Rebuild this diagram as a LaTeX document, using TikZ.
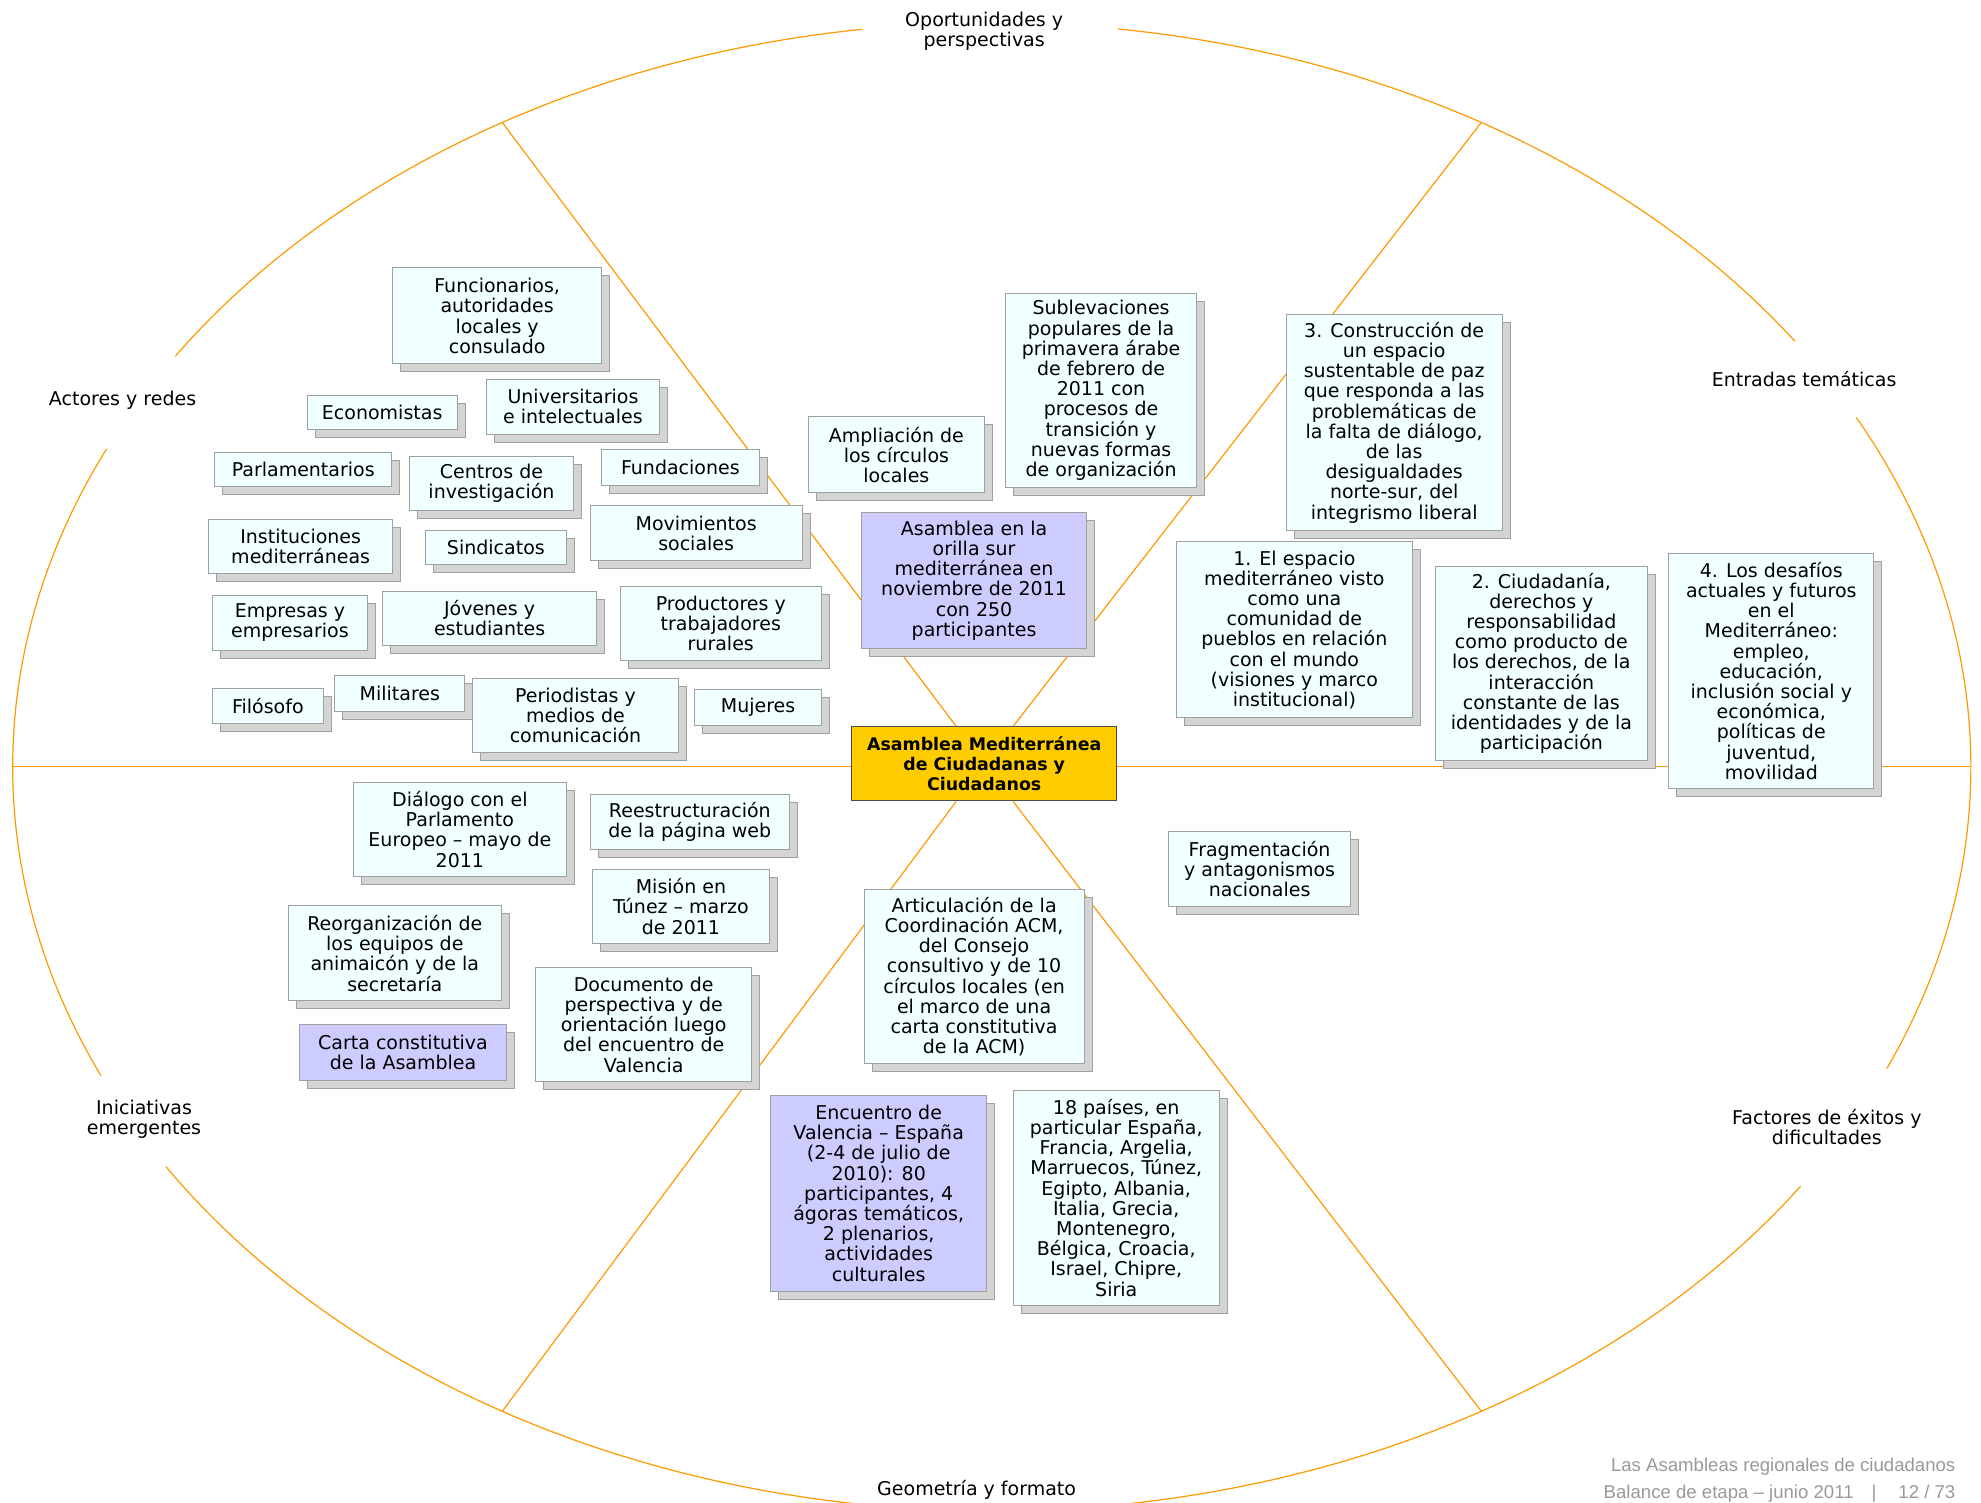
\documentclass[tikz,border=0pt]{standalone}
\usepackage{fontspec}
\setmainfont{DejaVu Sans}
\newfontfamily\piefont{Liberation Sans}
\usetikzlibrary{shadows}

\definecolor{naranja}{HTML}{FF9900}
\definecolor{celeste}{HTML}{F0FFFF}
\definecolor{lila}{HTML}{CCCCFF}
\definecolor{oro}{HTML}{FFCC00}
\definecolor{borde}{HTML}{A0A0A0}
\definecolor{sombra}{HTML}{D4D4D4}
\newcommand{\px}{0.6317pt}

\tikzset{
  eje/.style = {draw = naranja, line width = 0.6pt},
  caja/.style 2 args = {draw = borde, fill = celeste, line width = 0.5pt,
    inner sep = 0pt, align = center,
    minimum width = #1*\px, minimum height = #2*\px,
    drop shadow = {shadow xshift = 4pt, shadow yshift = -4pt,
      fill = sombra, draw = borde, opacity = 1}},
  violeta/.style = {fill = lila},
  rotulo/.style = {align = center}
}

\begin{document}
\begin{tikzpicture}[x = 0.6317pt, y = -0.6317pt,
  font = \fontsize{9.5}{10.1}\selectfont]
  \clip (0, 0) rectangle (1568, 1189);

  \coordinate (O) at (785, 607);
  % ellipse, open where the sector titles sit
  \foreach \a/\b in {-82.6/-34.9, -28/23.9, 34.3/147.5, 155.5/205.3, 213.5/262.4}
    \draw[eje] (O) ++(\a:775 and 589)
      arc[start angle = \a, end angle = \b, x radius = 775, y radius = 589];

  \node[draw = black!70, fill = oro, line width = 0.5pt, inner sep = 0pt,
    minimum width = 210*\px, minimum height = 59*\px, align = center,
    font = \fontsize{8.7}{10.1}\selectfont\bfseries] (cen) at (779, 604.5)
    {Asamblea Mediterránea\\de Ciudadanas y\\Ciudadanos};

  \foreach \t in {0, 60, 120, 180, 240, 300}
    \path (O) ++(\t:775 and 589) coordinate (r\t);
  \draw[eje] (r180) -- (r180 -| cen.west);
  \draw[eje] (r0) -- (r0 -| cen.east);
  \foreach \t in {60, 120, 240, 300}
    \draw[eje] (cen) -- (r\t);

  % sector titles
  \node[rotulo] (oportunidades) at (779, 25) {Oportunidades y\\perspectivas};
  \node[rotulo] (entradas) at (1428, 300) {Entradas temáticas};
  \node[rotulo] (factores) at (1446, 892) {Factores de éxitos y\\dificultades};
  \node[rotulo] (geometria) at (773, 1179) {Geometría y formato};
  \node[rotulo] (iniciativas) at (114, 886) {Iniciativas\\emergentes};
  \node[rotulo] (actores) at (97, 317) {Actores y redes};

  % actores y redes
  \node[caja = {165}{76}] (funcionarios) at (393.5, 250)
    {Funcionarios,\\autoridades\\locales y\\consulado};
  \node[caja = {119}{27}] (economistas) at (302.5, 326.5) {Economistas};
  \node[caja = {137}{44}] (universitarios) at (453.5, 322)
    {Universitarios\\e intelectuales};
  \node[caja = {140}{27}] (parlamentarios) at (240, 371.5) {Parlamentarios};
  \node[caja = {130}{43}] (centros) at (389, 382.5) {Centros de\\investigación};
  \node[caja = {125}{28}] (fundaciones) at (538.5, 370) {Fundaciones};
  \node[caja = {146}{43}] (instituciones) at (238, 432.5)
    {Instituciones\\mediterráneas};
  \node[caja = {111}{27}] (sindicatos) at (392.5, 433.5) {Sindicatos};
  \node[caja = {168}{44}] (movimientos) at (551, 422) {Movimientos\\sociales};
  \node[caja = {123}{44}] (empresas) at (229.5, 493) {Empresas y\\empresarios};
  \node[caja = {169}{43}] (jovenes) at (387.5, 489.5) {Jóvenes y\\estudiantes};
  \node[caja = {159}{59}] (productores) at (570.5, 493.5)
    {Productores y\\trabajadores\\rurales};
  \node[caja = {88}{28}] (filosofo) at (212, 559) {Filósofo};
  \node[caja = {103}{28}] (militares) at (316.5, 549) {Militares};
  \node[caja = {163}{59}] (periodistas) at (455.5, 566.5)
    {Periodistas y\\medios de\\comunicación};
  \node[caja = {100}{28}] (mujeres) at (600, 560) {Mujeres};

  % oportunidades y perspectivas
  \node[caja = {139}{60}] (ampliacion) at (709.5, 360)
    {Ampliación de\\los círculos\\locales};
  \node[caja = {151}{154}] (sublevaciones) at (871.5, 309)
    {Sublevaciones\\populares de la\\primavera árabe\\de febrero de\\2011 con\\procesos de\\transición y\\nuevas formas\\de organización};
  \node[caja = {178}{107}, violeta] (orilla) at (771, 459.5)
    {Asamblea en la\\orilla sur\\mediterránea en\\noviembre de 2011\\con 250\\participantes};

  % entradas temáticas
  \node[caja = {171}{171}] (construccion) at (1103.5, 334.5)
    {3. Construcción de\\un espacio\\sustentable de paz\\que responda a las\\problemáticas de\\la falta de diálogo,\\de las\\desigualdades\\norte-sur, del\\integrismo liberal};
  \node[caja = {187}{139}] (espacio) at (1024.5, 498.5)
    {1. El espacio\\mediterráneo visto\\como una\\comunidad de\\pueblos en relación\\con el mundo\\(visiones y marco\\institucional)};
  \node[caja = {168}{154}] (ciudadania) at (1220, 525)
    {2. Ciudadanía,\\derechos y\\responsabilidad\\como producto de\\los derechos, de la\\interacción\\constante de las\\identidades y de la\\participación};
  \node[caja = {162}{186}] (desafios) at (1402, 531)
    {4. Los desafíos\\actuales y futuros\\en el\\Mediterráneo:\\empleo,\\educación,\\inclusión social y\\económica,\\políticas de\\juventud,\\movilidad};

  % iniciativas emergentes
  \node[caja = {168}{75}] (dialogo) at (364, 656.5)
    {Diálogo con el\\Parlamento\\Europeo – mayo de\\2011};
  \node[caja = {158}{43}] (pagina) at (546, 650.5)
    {Reestructuración\\de la página web};
  \node[caja = {140}{59}] (mision) at (539, 717.5)
    {Misión en\\Túnez – marzo\\de 2011};
  \node[caja = {169}{75}] (reorganizacion) at (312.5, 754.5)
    {Reorganización de\\los equipos de\\animaicón y de la\\secretaría};
  \node[caja = {171}{90}] (documento) at (509.5, 811)
    {Documento de\\perspectiva y de\\orientación luego\\del encuentro de\\Valencia};
  \node[caja = {164}{44}, violeta] (carta) at (319, 833)
    {Carta constitutiva\\de la Asamblea};

  % geometría y formato, factores
  \node[caja = {174}{138}] (articulacion) at (771, 773)
    {Articulación de la\\Coordinación ACM,\\del Consejo\\consultivo y de 10\\círculos locales (en\\el marco de una\\carta constitutiva\\de la ACM)};
  \node[caja = {144}{59}] (fragmentacion) at (997, 688)
    {Fragmentación\\y antagonismos\\nacionales};
  \node[caja = {171}{155}, violeta] (encuentro) at (695.5, 944.5)
    {Encuentro de\\Valencia – España\\(2-4 de julio de\\2010): 80\\participantes, 4\\ágoras temáticos,\\2 plenarios,\\actividades\\culturales};
  \node[caja = {163}{170}] (paises) at (883.5, 948)
    {18 países, en\\particular España,\\Francia, Argelia,\\Marruecos, Túnez,\\Egipto, Albania,\\Italia, Grecia,\\Montenegro,\\Bélgica, Croacia,\\Israel, Chipre,\\Siria};

  \node[anchor = east, align = right, inner sep = 0pt, text = black!40,
    font = \piefont\fontsize{9.3}{13.3}\selectfont] (pie) at (1548, 1171.5)
    {Las Asambleas regionales de ciudadanos\\Balance de etapa – junio 2011\hspace{9pt}|\hspace{11pt}12 / 73};
\end{tikzpicture}
\end{document}
